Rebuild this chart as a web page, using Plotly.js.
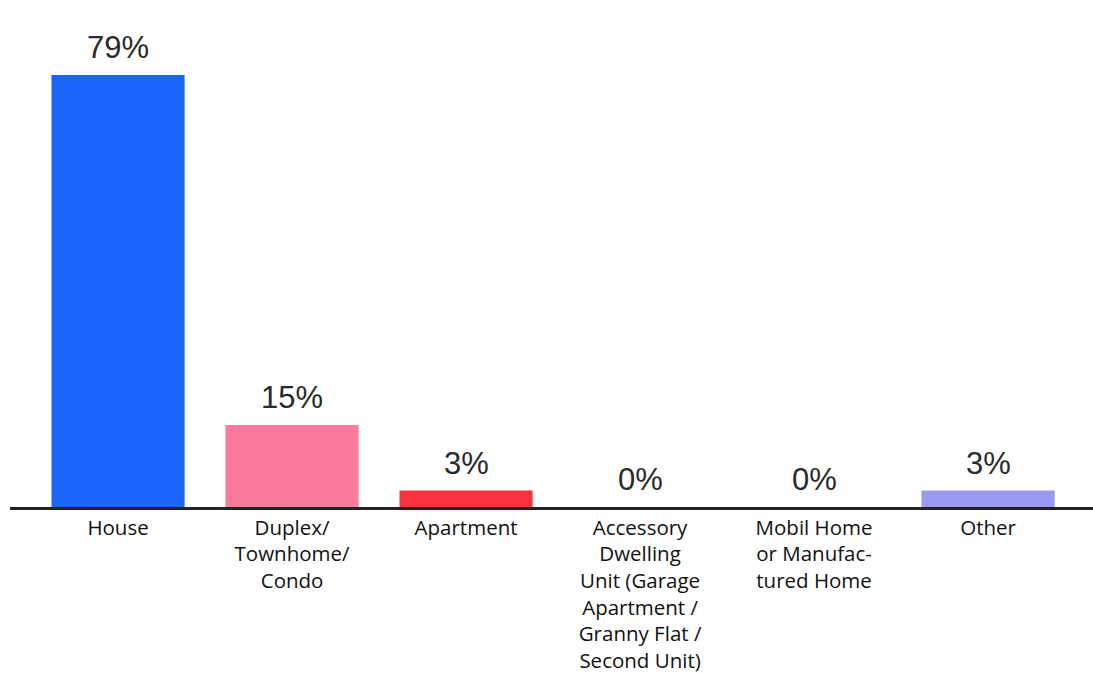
<!DOCTYPE html>
<html><head><meta charset="utf-8">
<script src="https://cdn.plot.ly/plotly-3.0.1.min.js"></script>
<style>html,body{margin:0;padding:0;background:#fff}#chart{width:1093px;height:673px}</style>
</head><body><div id="chart"></div>
<script>
const categories = ["House", "Duplex/<br>Townhome/<br>Condo", "Apartment", "Accessory<br>Dwelling<br>Unit (Garage<br>Apartment /<br>Granny Flat /<br>Second Unit)", "Mobil Home<br>or Manufac-<br>tured Home", "Other"];
const values = [79, 15, 3, 0, 0, 3];
const valueLabels = ["79%", "15%", "3%", "0%", "0%", "3%"];
const colors = ["#1a66fa", "#fb7b9e", "#f8323c", "#9a9af3", "#9a9af3", "#9a9af3"];

const trace = {
  type: "bar",
  x: categories,
  y: values,
  marker: {color: colors, line: {width: 0}},
  hoverinfo: "none"
};
const annotations = categories.map((c, i) => ({
  x: c, y: values[i], xref: "x", yref: "y",
  text: valueLabels[i], showarrow: false, yanchor: "bottom", yshift: 8,
  font: {family: "Liberation Sans, Arial, sans-serif", size: 31, color: "#2a2a2a"}
}));
const layout = {
  width: 1093, height: 673,
  margin: {l: 10, r: 0, t: 20, b: 166},
  paper_bgcolor: "#fff", plot_bgcolor: "#fff",
  bargap: 0.235,
  showlegend: false,
  xaxis: {
    type: "category", range: [-0.621, 5.603],
    showline: true, linecolor: "#222", linewidth: 3,
    showgrid: false, zeroline: false, ticks: "",
    tickfont: {family: "Open Sans, Noto Sans, sans-serif", size: 20.5, color: "#111"},
    tickangle: 0, automargin: false
  },
  yaxis: {
    range: [0, 89.06], visible: false, showgrid: false, zeroline: false, fixedrange: true
  },
  annotations: annotations
};
Plotly.newPlot("chart", [trace], layout, {displayModeBar: false, staticPlot: true});
</script></body></html>
